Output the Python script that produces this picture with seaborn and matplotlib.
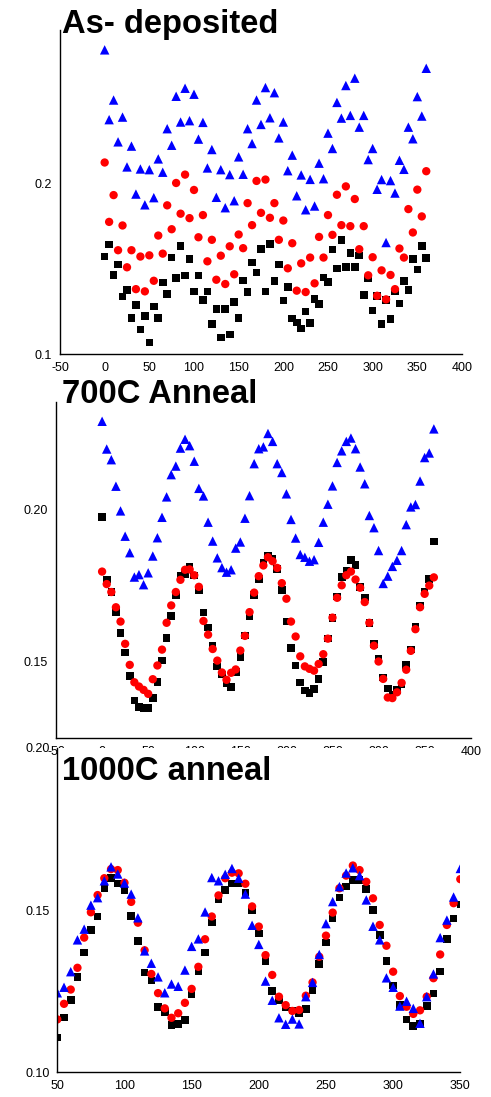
#!/usr/bin/env python3
""" Three stacked polar-angle scans: as-deposited, 700C and 1000C anneal """

import pandas as pd
import matplotlib
matplotlib.use('Agg')
import matplotlib.pyplot as plt
from matplotlib.ticker import MultipleLocator, FormatStrFormatter
import seaborn as sns

# Angles (deg) for the first two scans, and the visible range of the third
angles_full = [0, 5, 10, 15, 20, 25, 30, 35, 40, 45, 50, 55, 60, 65, 70, 75,
               80, 85, 90, 95, 100, 105, 110, 115, 120, 125, 130, 135, 140,
               145, 150, 155, 160, 165, 170, 175, 180, 185, 190, 195, 200,
               205, 210, 215, 220, 225, 230, 235, 240, 245, 250, 255, 260,
               265, 270, 275, 280, 285, 290, 295, 300, 305, 310, 315, 320,
               325, 330, 335, 340, 345, 350, 355, 360]
angles_1000 = angles_full[10:71]

# As-deposited
asdep_black = [0.1573, 0.1643, 0.1465, 0.1527, 0.1339, 0.1378, 0.1214, 0.1288,
               0.1145, 0.1224, 0.1069, 0.1280, 0.1214, 0.1422, 0.1355, 0.1567,
               0.1447, 0.1635, 0.1463, 0.1557, 0.1369, 0.1463, 0.1318, 0.1367,
               0.1178, 0.1267, 0.1098, 0.1267, 0.1116, 0.1308, 0.1212, 0.1433,
               0.1365, 0.1539, 0.1480, 0.1616, 0.1369, 0.1647, 0.1431, 0.1527,
               0.1316, 0.1394, 0.1210, 0.1186, 0.1151, 0.1251, 0.1184, 0.1324,
               0.1296, 0.1451, 0.1424, 0.1614, 0.1502, 0.1671, 0.1510, 0.1592,
               0.1510, 0.1578, 0.1347, 0.1445, 0.1257, 0.1340, 0.1178, 0.1320,
               0.1206, 0.1367, 0.1298, 0.1429, 0.1376, 0.1559, 0.1498, 0.1635,
               0.1563]
asdep_red = [0.2124, 0.1776, 0.1933, 0.1610, 0.1755, 0.1510, 0.1610, 0.1382,
             0.1573, 0.1369, 0.1580, 0.1431, 0.1696, 0.1590, 0.1873, 0.1733,
             0.2004, 0.1824, 0.2053, 0.1798, 0.1963, 0.1686, 0.1816, 0.1545,
             0.1671, 0.1437, 0.1578, 0.1412, 0.1633, 0.1469, 0.1702, 0.1622,
             0.1886, 0.1757, 0.2016, 0.1829, 0.2024, 0.1800, 0.1886, 0.1671,
             0.1784, 0.1504, 0.1651, 0.1373, 0.1533, 0.1365, 0.1567, 0.1416,
             0.1688, 0.1567, 0.1816, 0.1700, 0.1935, 0.1757, 0.1984, 0.1751,
             0.1910, 0.1616, 0.1751, 0.1463, 0.1569, 0.1343, 0.1492, 0.1322,
             0.1465, 0.1382, 0.1620, 0.1567, 0.1851, 0.1714, 0.1965, 0.1808,
             0.2073]
asdep_blue = [0.2784, 0.2375, 0.2490, 0.2245, 0.2390, 0.2098, 0.2220, 0.1939,
              0.2086, 0.1876, 0.2082, 0.1918, 0.2145, 0.2067, 0.2322, 0.2225,
              0.2512, 0.2361, 0.2559, 0.2369, 0.2524, 0.2261, 0.2359, 0.2092,
              0.2200, 0.1920, 0.2082, 0.1859, 0.2053, 0.1900, 0.2157, 0.2055,
              0.2322, 0.2235, 0.2490, 0.2347, 0.2563, 0.2386, 0.2533, 0.2268,
              0.2361, 0.2076, 0.2167, 0.1929, 0.2051, 0.1847, 0.2025, 0.1869,
              0.2120, 0.2029, 0.2296, 0.2206, 0.2476, 0.2384, 0.2575, 0.2400,
              0.2618, 0.2331, 0.2400, 0.2141, 0.2206, 0.1967, 0.2024, 0.1655,
              0.2018, 0.1945, 0.2137, 0.2084, 0.2331, 0.2263, 0.2510, 0.2396,
              0.2676]

# 700C anneal
a700_black = [0.1974, 0.1769, 0.1728, 0.1662, 0.1594, 0.1529, 0.1452, 0.1372,
              0.1350, 0.1348, 0.1348, 0.1381, 0.1432, 0.1503, 0.1577, 0.1649,
              0.1717, 0.1781, 0.1788, 0.1810, 0.1782, 0.1733, 0.1661, 0.1611,
              0.1550, 0.1484, 0.1458, 0.1430, 0.1416, 0.1466, 0.1514, 0.1585,
              0.1648, 0.1719, 0.1771, 0.1823, 0.1846, 0.1837, 0.1803, 0.1734,
              0.1631, 0.1544, 0.1487, 0.1431, 0.1405, 0.1396, 0.1409, 0.1442,
              0.1498, 0.1575, 0.1642, 0.1713, 0.1777, 0.1799, 0.1832, 0.1817,
              0.1745, 0.1710, 0.1627, 0.1558, 0.1510, 0.1448, 0.1412, 0.1390,
              0.1407, 0.1425, 0.1489, 0.1539, 0.1615, 0.1684, 0.1728, 0.1771,
              0.1894]
a700_red = [0.1795, 0.1754, 0.1728, 0.1678, 0.1631, 0.1558, 0.1489, 0.1432,
            0.1418, 0.1407, 0.1394, 0.1442, 0.1487, 0.1539, 0.1627, 0.1684,
            0.1728, 0.1768, 0.1801, 0.1802, 0.1783, 0.1745, 0.1633, 0.1588,
            0.1541, 0.1503, 0.1464, 0.1440, 0.1463, 0.1474, 0.1536, 0.1584,
            0.1662, 0.1726, 0.1780, 0.1815, 0.1842, 0.1829, 0.1807, 0.1757,
            0.1706, 0.1631, 0.1582, 0.1517, 0.1484, 0.1476, 0.1470, 0.1492,
            0.1524, 0.1575, 0.1644, 0.1709, 0.1750, 0.1783, 0.1795, 0.1769,
            0.1742, 0.1695, 0.1627, 0.1552, 0.1500, 0.1443, 0.1382, 0.1380,
            0.1399, 0.1430, 0.1473, 0.1535, 0.1606, 0.1678, 0.1722, 0.1749,
            0.1776]
a700_blue = [0.2288, 0.2197, 0.2162, 0.2075, 0.1994, 0.1911, 0.1857, 0.1777,
             0.1785, 0.1752, 0.1791, 0.1846, 0.1906, 0.1973, 0.2040, 0.2113,
             0.2141, 0.2200, 0.2229, 0.2208, 0.2157, 0.2068, 0.2043, 0.1957,
             0.1895, 0.1840, 0.1808, 0.1793, 0.1801, 0.1872, 0.1892, 0.1970,
             0.2044, 0.2149, 0.2198, 0.2204, 0.2248, 0.2222, 0.2149, 0.2120,
             0.2050, 0.1966, 0.1905, 0.1851, 0.1842, 0.1829, 0.1834, 0.1891,
             0.1957, 0.2016, 0.2076, 0.2153, 0.2191, 0.2222, 0.2233, 0.2198,
             0.2138, 0.2083, 0.1979, 0.1939, 0.1864, 0.1756, 0.1780, 0.1812,
             0.1832, 0.1864, 0.1949, 0.2007, 0.2015, 0.2092, 0.2169, 0.2184,
             0.2263]

# 1000C anneal (50..350 deg)
a1000_black = [0.1107, 0.1169, 0.1223, 0.1293, 0.1369, 0.1438, 0.1480, 0.1567,
               0.1598, 0.1582, 0.1560, 0.1481, 0.1405, 0.1307, 0.1283, 0.1201,
               0.1185, 0.1145, 0.1149, 0.1161, 0.1242, 0.1312, 0.1369, 0.1461,
               0.1532, 0.1562, 0.1582, 0.1582, 0.1554, 0.1500, 0.1428, 0.1343,
               0.1250, 0.1223, 0.1200, 0.1190, 0.1183, 0.1195, 0.1254, 0.1333,
               0.1400, 0.1474, 0.1538, 0.1572, 0.1592, 0.1592, 0.1565, 0.1500,
               0.1423, 0.1343, 0.1267, 0.1207, 0.1163, 0.1143, 0.1149, 0.1205,
               0.1243, 0.1310, 0.1410, 0.1474, 0.1517]
a1000_red = [0.1163, 0.1211, 0.1255, 0.1322, 0.1415, 0.1493, 0.1546, 0.1598,
             0.1626, 0.1623, 0.1584, 0.1525, 0.1461, 0.1376, 0.1303, 0.1244,
             0.1197, 0.1168, 0.1182, 0.1214, 0.1257, 0.1325, 0.1410, 0.1480,
             0.1545, 0.1598, 0.1615, 0.1613, 0.1581, 0.1511, 0.1449, 0.1361,
             0.1300, 0.1233, 0.1207, 0.1189, 0.1192, 0.1236, 0.1277, 0.1356,
             0.1421, 0.1492, 0.1567, 0.1606, 0.1637, 0.1623, 0.1587, 0.1536,
             0.1454, 0.1390, 0.1310, 0.1235, 0.1202, 0.1180, 0.1191, 0.1233,
             0.1290, 0.1363, 0.1454, 0.1521, 0.1595]
a1000_blue = [0.1245, 0.1262, 0.1310, 0.1408, 0.1441, 0.1515, 0.1538, 0.1590,
              0.1633, 0.1611, 0.1583, 0.1549, 0.1476, 0.1374, 0.1336, 0.1294,
              0.1245, 0.1272, 0.1265, 0.1315, 0.1388, 0.1411, 0.1494, 0.1600,
              0.1590, 0.1610, 0.1628, 0.1598, 0.1549, 0.1453, 0.1394, 0.1281,
              0.1222, 0.1168, 0.1148, 0.1164, 0.1149, 0.1233, 0.1277, 0.1363,
              0.1458, 0.1526, 0.1572, 0.1614, 0.1630, 0.1606, 0.1531, 0.1450,
              0.1408, 0.1291, 0.1262, 0.1204, 0.1219, 0.1197, 0.1151, 0.1233,
              0.1303, 0.1415, 0.1469, 0.1540, 0.1628]

SERIES = ['black', 'red', 'blue']
PALETTE = {'black': '#000000', 'red': '#ff0000', 'blue': '#0000ff'}
MARKERS = {'black': 's', 'red': 'o', 'blue': '^'}
SIZES = {'black': 30, 'red': 36, 'blue': 46}


def make_frame(angles, black, red, blue):
  """ Long format table, black first so red and blue draw on top """
  parts = []
  for name, vals in zip(SERIES, [black, red, blue]):
    parts.append(pd.DataFrame({'angle': angles, 'value': vals, 'series': name}))
  return pd.concat(parts, ignore_index=True)


def draw_panel(fig, rect, df, xlim, ylim, xmajor, ymajor, yfmt, title, title_y):
  """ One scan panel with Origin-like axes """
  ax = fig.add_axes(rect)
  sns.scatterplot(data=df, x='angle', y='value', hue='series', style='series',
                  size='series', palette=PALETTE, markers=MARKERS, sizes=SIZES,
                  linewidth=0, legend=False, ax=ax)
  ax.set_xlim(*xlim)
  ax.set_ylim(*ylim)
  ax.xaxis.set_major_locator(MultipleLocator(xmajor))
  ax.xaxis.set_minor_locator(MultipleLocator(xmajor / 2))
  ax.yaxis.set_major_locator(MultipleLocator(ymajor))
  ax.yaxis.set_minor_locator(MultipleLocator(ymajor / 2))
  ax.yaxis.set_major_formatter(FormatStrFormatter(yfmt))
  ax.set_xlabel('')
  ax.set_ylabel('')
  for side in ['top', 'right']:
    ax.spines[side].set_visible(False)
  for side in ['left', 'bottom']:
    ax.spines[side].set_linewidth(1.0)
    ax.spines[side].set_color('black')
  ax.tick_params(which='major', direction='out', length=3.2, width=0.9,
                 labelsize=9, pad=2.5, colors='black')
  ax.tick_params(which='minor', direction='out', length=2.2, width=0.9,
                 colors='black')
  fig.text(62 / 491, 1 - title_y / 1097, title, fontsize=23.6,
           fontweight='bold', color='black', va='baseline', ha='left',
           zorder=10)
  return ax


def main():
  sns.set_style('white')
  plt.rcParams['font.family'] = ['Liberation Sans', 'DejaVu Sans']
  plt.rcParams['axes.unicode_minus'] = False
  plt.rcParams['text.color'] = 'black'
  fig = plt.figure(figsize=(4.91, 10.97), dpi=100)

  df1 = make_frame(angles_full, asdep_black, asdep_red, asdep_blue)
  df2 = make_frame(angles_full, a700_black, a700_red, a700_blue)
  df3 = make_frame(angles_1000, a1000_black, a1000_red, a1000_blue)

  draw_panel(fig, [0.1222, 0.6770, 0.8187, 0.2956], df1, (-50, 400),
             (0.1, 0.29), 50, 0.1, '%.1f', 'As- deposited', 33.5)
  draw_panel(fig, [0.1141, 0.3275, 0.8446, 0.3057], df2, (-50, 400),
             (0.125, 0.235), 50, 0.05, '%.2f', '700C Anneal', 403)
  draw_panel(fig, [0.1167, 0.0225, 0.8208, 0.2959], df3, (50, 350),
             (0.10, 0.20), 50, 0.05, '%.2f', '1000C anneal', 779.5)

  fig.savefig('out.png', dpi=100)

if __name__ == '__main__':
  main()
